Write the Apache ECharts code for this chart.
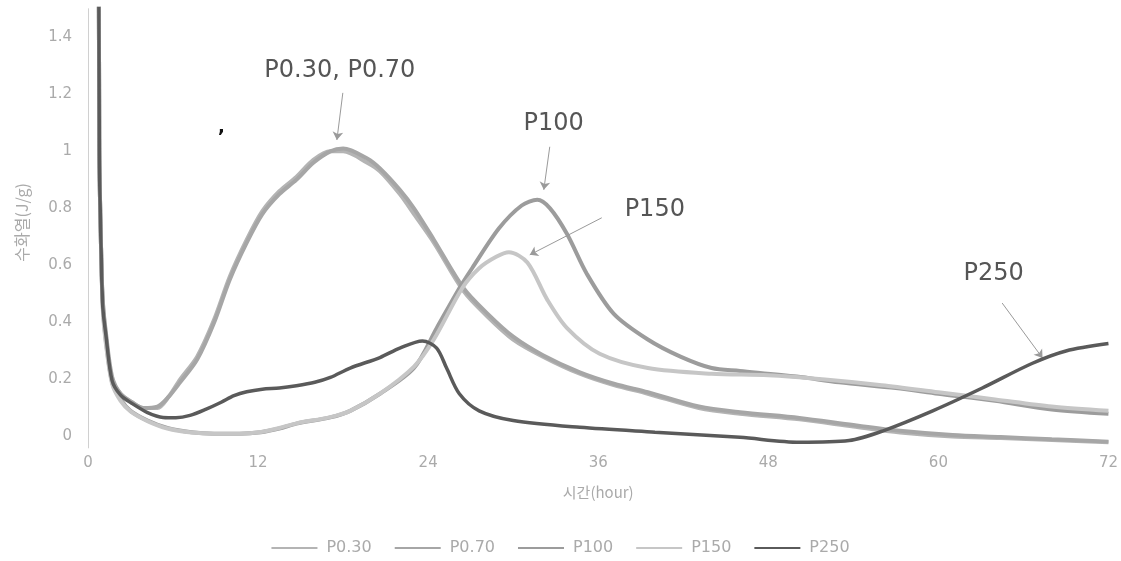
<!DOCTYPE html>
<html>
<head>
<meta charset="utf-8">
<script src="https://cdn.jsdelivr.net/npm/echarts@6/dist/echarts.min.js"></script>
<style>
html,body{margin:0;padding:0;background:#ffffff;}
#chart{width:1121px;height:561px;}
</style>
</head>
<body>
<div id="chart"></div>
<script>
// ---- data (time in hours, heat of hydration in J/g) ----
const seriesNames = ['P0.30', 'P0.70', 'P100', 'P150', 'P250'];

const P030 = [
  [0.7,3.0],[0.8,1.0],[0.95,0.6],[1.05,0.47],[1.25,0.36],[1.7,0.2],[2.3,0.15],[3.1,0.12],[3.9,0.1],
  [4.9,0.1],[5.7,0.14],[6.5,0.2],[7.7,0.28],[8.9,0.41],[10.0,0.56],[11.2,0.69],[12.3,0.79],
  [13.5,0.86],[14.7,0.91],[15.9,0.97],[17.1,1.0],[18.0,1.0],[19.7,0.96],[20.6,0.93],[22.0,0.85],
  [23.0,0.78],[24.4,0.68],[26.5,0.51],[28.2,0.42],[30.0,0.34],[32.1,0.28],[34.7,0.22],[37.1,0.18],
  [39.5,0.15],[43.1,0.1],[46,0.08],[50.2,0.06],[54,0.035],[57.3,0.014],[61,0.0],[64.4,-0.005],
  [68,-0.012],[72,-0.02]
];
const P070 = [
  [0.7,3.0],[0.8,1.0],[0.95,0.6],[1.05,0.47],[1.25,0.37],[1.7,0.21],[2.3,0.15],[3.1,0.12],[3.9,0.1],
  [4.9,0.105],[5.7,0.14],[6.5,0.19],[7.7,0.27],[8.9,0.4],[10.0,0.55],[11.2,0.68],[12.3,0.78],
  [13.5,0.85],[14.7,0.9],[15.9,0.96],[17.1,1.0],[18.0,1.01],[19.7,0.975],[20.6,0.94],[22.0,0.865],
  [23.0,0.8],[24.4,0.69],[26.5,0.52],[28.2,0.43],[30.0,0.35],[32.1,0.285],[34.7,0.225],[37.1,0.185],
  [39.5,0.155],[43.1,0.105],[46,0.085],[50.2,0.065],[54,0.04],[57.3,0.02],[61,0.005],[64.4,-0.002],
  [68,-0.01],[72,-0.018]
];
const P100 = [
  [0.7,3.0],[0.8,1.0],[0.95,0.6],[1.05,0.45],[1.25,0.34],[1.7,0.19],[2.3,0.13],[3.0,0.09],[4.2,0.056],
  [5.6,0.03],[7.3,0.015],[8.9,0.01],[10.7,0.01],[12.2,0.015],[13.5,0.028],[14.7,0.045],[17.1,0.067],
  [18.5,0.09],[20.6,0.15],[23.0,0.24],[24.6,0.38],[26.2,0.52],[27.1,0.59],[29.0,0.73],[30.6,0.81],
  [31.7,0.83],[32.6,0.8],[33.8,0.71],[35.2,0.57],[37.1,0.43],[39.5,0.34],[41.8,0.28],[44,0.24],
  [46,0.23],[50,0.21],[53,0.19],[57,0.17],[60,0.15],[64,0.125],[68,0.095],[72,0.08]
];
const P150 = [
  [0.7,3.0],[0.8,1.0],[0.95,0.6],[1.05,0.44],[1.25,0.33],[1.7,0.185],[2.3,0.125],[3.0,0.088],[4.2,0.054],
  [5.6,0.028],[7.3,0.014],[8.9,0.01],[10.7,0.01],[12.2,0.016],[13.5,0.03],[14.7,0.046],[17.1,0.068],
  [18.5,0.09],[20.6,0.15],[23.0,0.245],[24.4,0.34],[26.4,0.52],[27.6,0.59],[28.8,0.63],[29.7,0.646],
  [31.0,0.61],[32.4,0.48],[33.8,0.38],[36.1,0.29],[39.5,0.24],[44,0.22],[48,0.215],[52,0.2],
  [56,0.18],[60,0.155],[64,0.13],[68,0.105],[72,0.09]
];
const P250 = [
  [0.7,3.0],[0.8,1.0],[0.95,0.6],[1.05,0.45],[1.25,0.36],[1.7,0.196],[2.3,0.145],[3.1,0.116],[4.2,0.084],
  [5.3,0.067],[6.2,0.066],[7.2,0.074],[8.3,0.095],[9.4,0.12],[10.3,0.143],[11.2,0.157],[12.3,0.166],
  [13.5,0.17],[14.7,0.178],[16,0.19],[17.1,0.207],[18.5,0.24],[20.6,0.277],[22,0.31],[23.6,0.335],
  [24.6,0.31],[25.3,0.24],[26.2,0.15],[27.6,0.09],[30,0.056],[34.7,0.032],[40,0.015],[46,-0.003],
  [50.2,-0.02],[53.7,-0.014],[56.1,0.02],[59.6,0.09],[63.1,0.17],[66.6,0.256],[69,0.3],[72,0.326]
];

const xTicks = [0, 12, 24, 36, 48, 60, 72];
const yTickLabels = [0, 0.2, 0.4, 0.6, 0.8, 1, 1.2, 1.4];

// callouts in data coordinates: label centre, arrow start, arrow end
const calloutTexts = ['P0.30, P0.70', 'P100', 'P150', 'P250'];
const calloutAt    = [[17.77, 1.284], [32.86, 1.096], [39.99, 0.796], [63.9, 0.572]];
const calloutFrom  = [[17.98, 1.205], [32.58, 1.016], [36.25, 0.767], [64.5, 0.468]];
const calloutTo    = [[17.56, 1.040], [32.16, 0.865], [31.17, 0.637], [67.35, 0.275]];

// ---- styles ----
const colors = ['#b4b4b4', '#a6a6a6', '#9c9c9c', '#c6c6c6', '#5a5a5a'];
const widths = [4, 4, 4, 4, 3.5];
const dataSets = [P030, P070, P100, P150, P250];

const axisFont = 'DejaVu Sans';
const krFont = '"Noto Sans CJK KR", "Noto Sans", sans-serif';

const chart = echarts.init(document.getElementById('chart'), null, {renderer: 'canvas'});

const series = seriesNames.map((name, i) => ({
  name: name,
  type: 'line',
  data: dataSets[i],
  symbol: 'none',
  smooth: 0.3,
  clip: true,
  z: 2 + i,
  lineStyle: {color: colors[i], width: widths[i]},
  itemStyle: {color: colors[i]}
}));

series[4].markLine = {
  silent: true,
  animation: false,
  symbol: ['none', 'arrow'],
  symbolSize: 8,
  label: {show: false},
  lineStyle: {color: '#9a9a9a', width: 1, type: 'solid'},
  emphasis: {disabled: true},
  data: calloutFrom.map((f, k) => [{coord: f}, {coord: calloutTo[k]}])
};

chart.setOption({
  animation: false,
  backgroundColor: '#ffffff',
  grid: {left: 88, right: 12, top: 8.75, bottom: 113.1, containLabel: false},
  legend: {
    data: seriesNames.map(n => ({name: n, icon: 'rect'})),
    left: 'center',
    top: 535,
    itemWidth: 46,
    itemHeight: 2,
    itemGap: 23,
    textStyle: {color: '#aaaaaa', fontSize: 16, fontFamily: axisFont, padding: [0, 0, 0, 4]}
  },
  xAxis: {
    type: 'value',
    min: xTicks[0],
    max: xTicks[xTicks.length - 1],
    interval: 12,
    axisLine: {show: false, onZero: false},
    axisTick: {show: false},
    splitLine: {show: false},
    axisLabel: {color: '#aaaaaa', fontSize: 15, fontFamily: axisFont, margin: 8},
    name: '시간(hour)',
    nameLocation: 'middle',
    nameGap: 37,
    nameTextStyle: {color: '#aaaaaa', fontSize: 15, fontFamily: krFont}
  },
  yAxis: {
    type: 'value',
    min: -0.04,
    max: 1.5,
    interval: 0.02,
    axisLine: {show: true, lineStyle: {color: '#d0d0d0', width: 1}},
    axisTick: {show: false},
    splitLine: {show: false},
    axisLabel: {
      color: '#aaaaaa', fontSize: 15, fontFamily: axisFont, margin: 16,
      formatter: function (v) {
        for (const t of yTickLabels) { if (Math.abs(v - t) < 1e-6) return String(t); }
        return '';
      }
    },
    name: '수화열(J/g)',
    nameLocation: 'middle',
    nameGap: 58,
    nameTextStyle: {color: '#aaaaaa', fontSize: 16, fontFamily: krFont, padding: [0, 0, 0, 12]}
  },
  series: series
});

// callout texts positioned through the chart's own coordinate system
const graphics = calloutTexts.map((txt, k) => {
  const p = chart.convertToPixel({xAxisIndex: 0, yAxisIndex: 0}, calloutAt[k]);
  return {
    type: 'text',
    x: p[0],
    y: p[1],
    silent: true,
    style: {text: txt, fill: '#555555', font: '24px "DejaVu Sans"', align: 'center', verticalAlign: 'middle'}
  };
});
graphics.push({
  type: 'text', left: 218, top: 118, silent: true,
  style: {text: ',', fill: '#111111', font: 'bold 18px "DejaVu Sans"'}
});
chart.setOption({graphic: graphics});
</script>
</body>
</html>
